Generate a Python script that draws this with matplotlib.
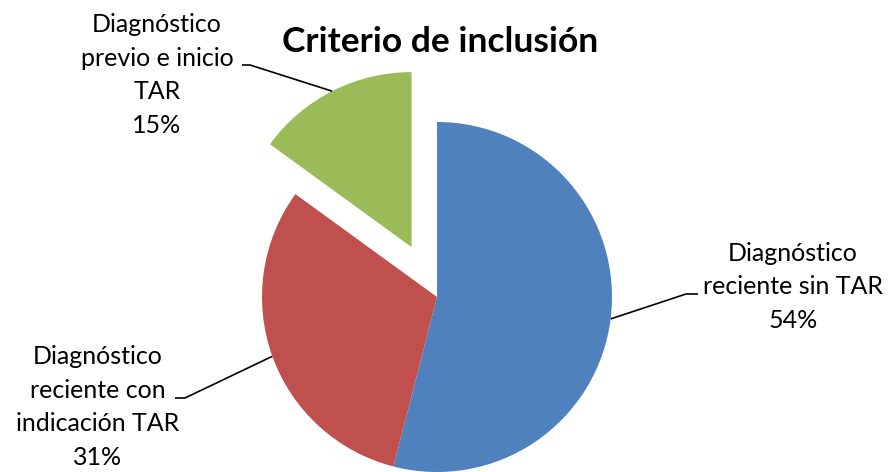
import numpy as np
import matplotlib
matplotlib.use("Agg")
import matplotlib.pyplot as plt

plt.rcParams['font.family'] = ['Lato', 'DejaVu Sans']

title = "Criterio de inclusión"
categories = ["Diagnóstico\nreciente sin TAR", "Diagnóstico\nreciente con\nindicación TAR", "Diagnóstico\nprevio e inicio\nTAR"]
values = [54, 31, 15]
colors = ["#4F81BD", "#C0504D", "#9BBB59"]
explode_frac = [0, 0, 0.32]

W, H = 889, 472
fig = plt.figure(figsize=(W / 100, H / 100), dpi=100)
ax = fig.add_axes([0, 0, 1, 1])

cx, cy, R = 437, H - 297, 175
wedges, _ = ax.pie(values, colors=colors, startangle=90, counterclock=False,
                   explode=[e * R for e in explode_frac], center=(cx, cy), radius=R,
                   wedgeprops=dict(linewidth=0))
ax.set_xlim(0, W)
ax.set_ylim(0, H)
ax.set_aspect("auto")
ax.axis("off")

# label layout (pixel positions, y from top): text center, elbow, end
label_pos = [(793, 287), (98, 407), (157, 75)]
elbow_pos = [(686, 294), (185, 398), (250, 65)]
end_pos = [(698, 294), (175, 398), (242, 65)]

for w, cat, v, lp, ep, tp in zip(wedges, categories, values, label_pos, elbow_pos, end_pos):
    mid = np.deg2rad((w.theta1 + w.theta2) / 2)
    wx, wy = w.center
    px = wx + w.r * np.cos(mid)
    py = wy + w.r * np.sin(mid)
    ax.plot([px, ep[0], tp[0]], [py, H - ep[1], H - tp[1]], color="black", lw=1.2,
            solid_capstyle="butt")
    ax.text(lp[0], H - lp[1], f"{cat}\n{v}%", ha="center", va="center",
            fontsize=18, linespacing=1.55, color="black")

ax.text(440, H - 42, title, ha="center", va="center", fontsize=25.5, fontweight="bold")

fig.savefig("out.png", dpi=100)
